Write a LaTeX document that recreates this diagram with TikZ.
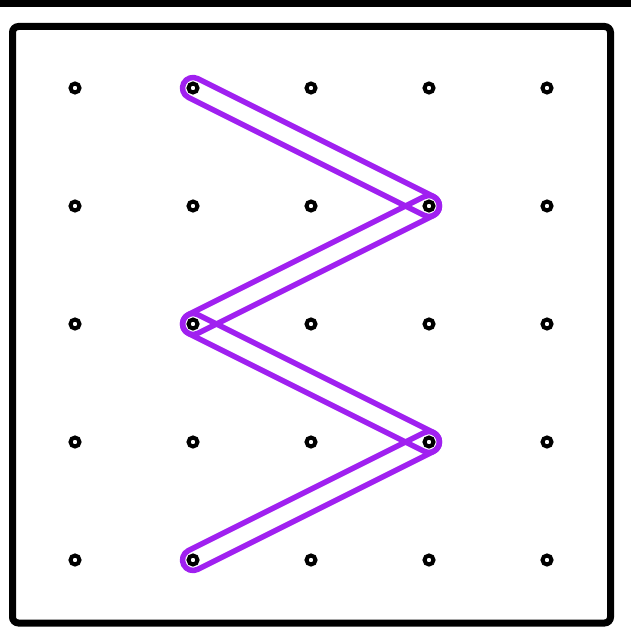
\documentclass[tikz,border=0pt]{standalone}
\usetikzlibrary{calc}
\definecolor{bandpurple}{HTML}{A020F0}
\tikzset{
  band/.style={draw=bandpurple, line width=5.5pt, line join=round},
  peg/.style={circle, draw=black, fill=white, line width=4pt, minimum size=9pt, inner sep=0pt},
  frame/.style={draw=black, line width=7pt, rounded corners=6pt}
}
\newcommand\bandseg[3]{%
  \draw[band] ($(#1)!10.5pt!-90:(#2)$) -- ($(#2)!10.5pt!90:(#1)$)
    arc[start angle=#3-90, end angle=#3+90, radius=10.5pt]
    -- ($(#1)!10.5pt!90:(#2)$)
    arc[start angle=#3+90, end angle=#3+270, radius=10.5pt] -- cycle;}
\begin{document}
\begin{tikzpicture}[x=1pt,y=1pt]
  \useasboundingbox (0,0) rectangle (631,-628);
  \fill[black] (0,0) rectangle (631,-7);
  \draw[frame] (12.5,-26.5) rectangle (610.5,-623);
  \foreach \i/\x in {1/75,2/193,3/311,4/429,5/547}{
    \foreach \j/\y in {1/88,2/206,3/324,4/442,5/560}{
      \coordinate (c\i\j) at (\x,-\y);
    }
  }
  \bandseg{c21}{c42}{-26.565}
  \bandseg{c42}{c23}{206.565}
  \bandseg{c23}{c44}{-26.565}
  \bandseg{c44}{c25}{206.565}
  \foreach \i in {1,...,5}{
    \foreach \j in {1,...,5}{
      \node[peg] (p\i\j) at (c\i\j) {};
    }
  }
\end{tikzpicture}
\end{document}
